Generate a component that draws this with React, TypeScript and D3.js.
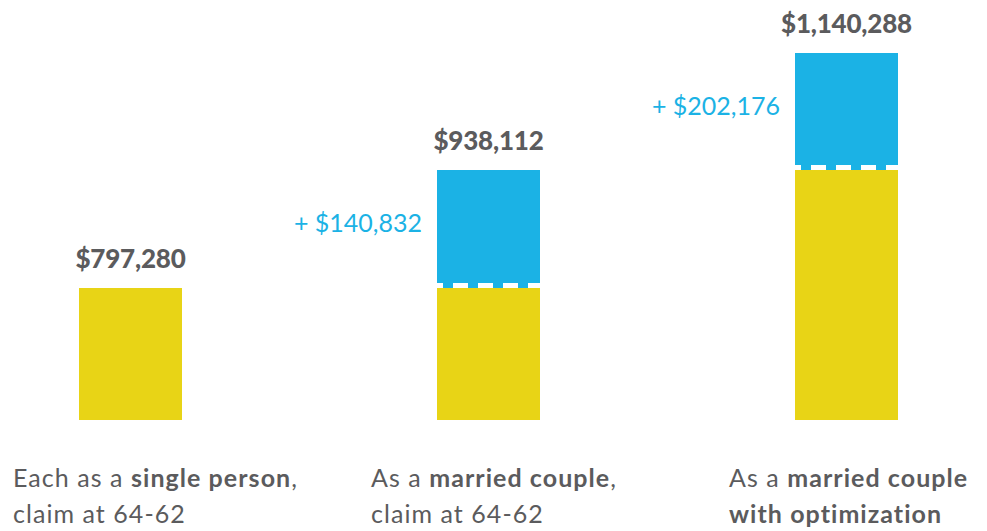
import React from "react";
import * as d3 from "d3";

const categories = ["single", "married", "optimized"];
const baseValues = [797280, 797280, 938112];
const addedValues = [0, 140832, 202176];
const totalLabels = ["$797,280", "$938,112", "$1,140,288"];
const addedLabels = ["", "+ $140,832", "+ $202,176"];
const captionLines: { text: string; bold: boolean }[][][] = [
  [
    [
      { text: "Each as a ", bold: false },
      { text: "single person", bold: true },
      { text: ",", bold: false },
    ],
    [{ text: "claim at 64-62", bold: false }],
  ],
  [
    [
      { text: "As a ", bold: false },
      { text: "married couple", bold: true },
      { text: ",", bold: false },
    ],
    [{ text: "claim at 64-62", bold: false }],
  ],
  [
    [
      { text: "As a ", bold: false },
      { text: "married couple", bold: true },
    ],
    [{ text: "with optimization", bold: true }],
  ],
];

const W = 987;
const H = 531;
const YELLOW = "#E8D416";
const BLUE = "#1BB2E5";
const GRAY = "#5B5B5D";
const FONT = "Lato, 'Open Sans', sans-serif";

export default function App() {
  const totals = baseValues.map((b, i) => b + addedValues[i]);
  const levels = Array.from(new Set([0, ...baseValues, ...totals])).sort((a, b) => a - b);
  // illustrative (non-proportional) scale: piecewise linear through the value levels
  const y = d3.scaleLinear().domain(levels).range([420, 288, 170, 53]);
  const x = d3.scalePoint<string>().domain(categories).range([130.5, 846.5]);
  const barW = 103;

  return (
    <svg
      width={W}
      height={H}
      style={{ position: "absolute", left: 0, top: 0, fontFamily: FONT }}
    >
      <rect width={W} height={H} fill="#fff" />
      {categories.map((c, i) => {
        const cx = x(c)!;
        const x0 = cx - barW / 2;
        const base = baseValues[i];
        const tot = totals[i];
        const hasAdd = addedValues[i] > 0;
        return (
          <g key={c}>
            <rect x={x0} y={y(base)} width={barW} height={y(0) - y(base)} fill={YELLOW} />
            {hasAdd && (
              <>
                <rect x={x0} y={y(tot)} width={barW} height={y(base) - y(tot)} fill={BLUE} />
                <line
                  x1={x0}
                  x2={x0 + barW}
                  y1={y(base) - 2.5}
                  y2={y(base) - 2.5}
                  stroke="#fff"
                  strokeWidth={5}
                  strokeDasharray="15 10"
                  strokeDashoffset={9}
                />
                <text
                  x={x0 - 15}
                  y={(y(base) + y(tot)) / 2 + 3}
                  textAnchor="end"
                  fill={BLUE}
                  fontSize={25}
                  letterSpacing={0}
                >
                  {addedLabels[i]}
                </text>
              </>
            )}
            <text
              x={cx}
              y={y(tot) - 20}
              textAnchor="middle"
              fill={GRAY}
              fontSize={26}
              fontWeight={900}
              letterSpacing={-0.2}
            >
              {totalLabels[i]}
            </text>
            {captionLines[i].map((line, li) => (
              <text
                key={li}
                x={x0 - 66}
                y={487 + li * 36}
                fill={GRAY}
                fontSize={25}
                letterSpacing={1.05}
              >
                {line.map((seg, si) => (
                  <tspan key={si} fontWeight={seg.bold ? 700 : 400}>
                    {seg.text}
                  </tspan>
                ))}
              </text>
            ))}
          </g>
        );
      })}
    </svg>
  );
}
